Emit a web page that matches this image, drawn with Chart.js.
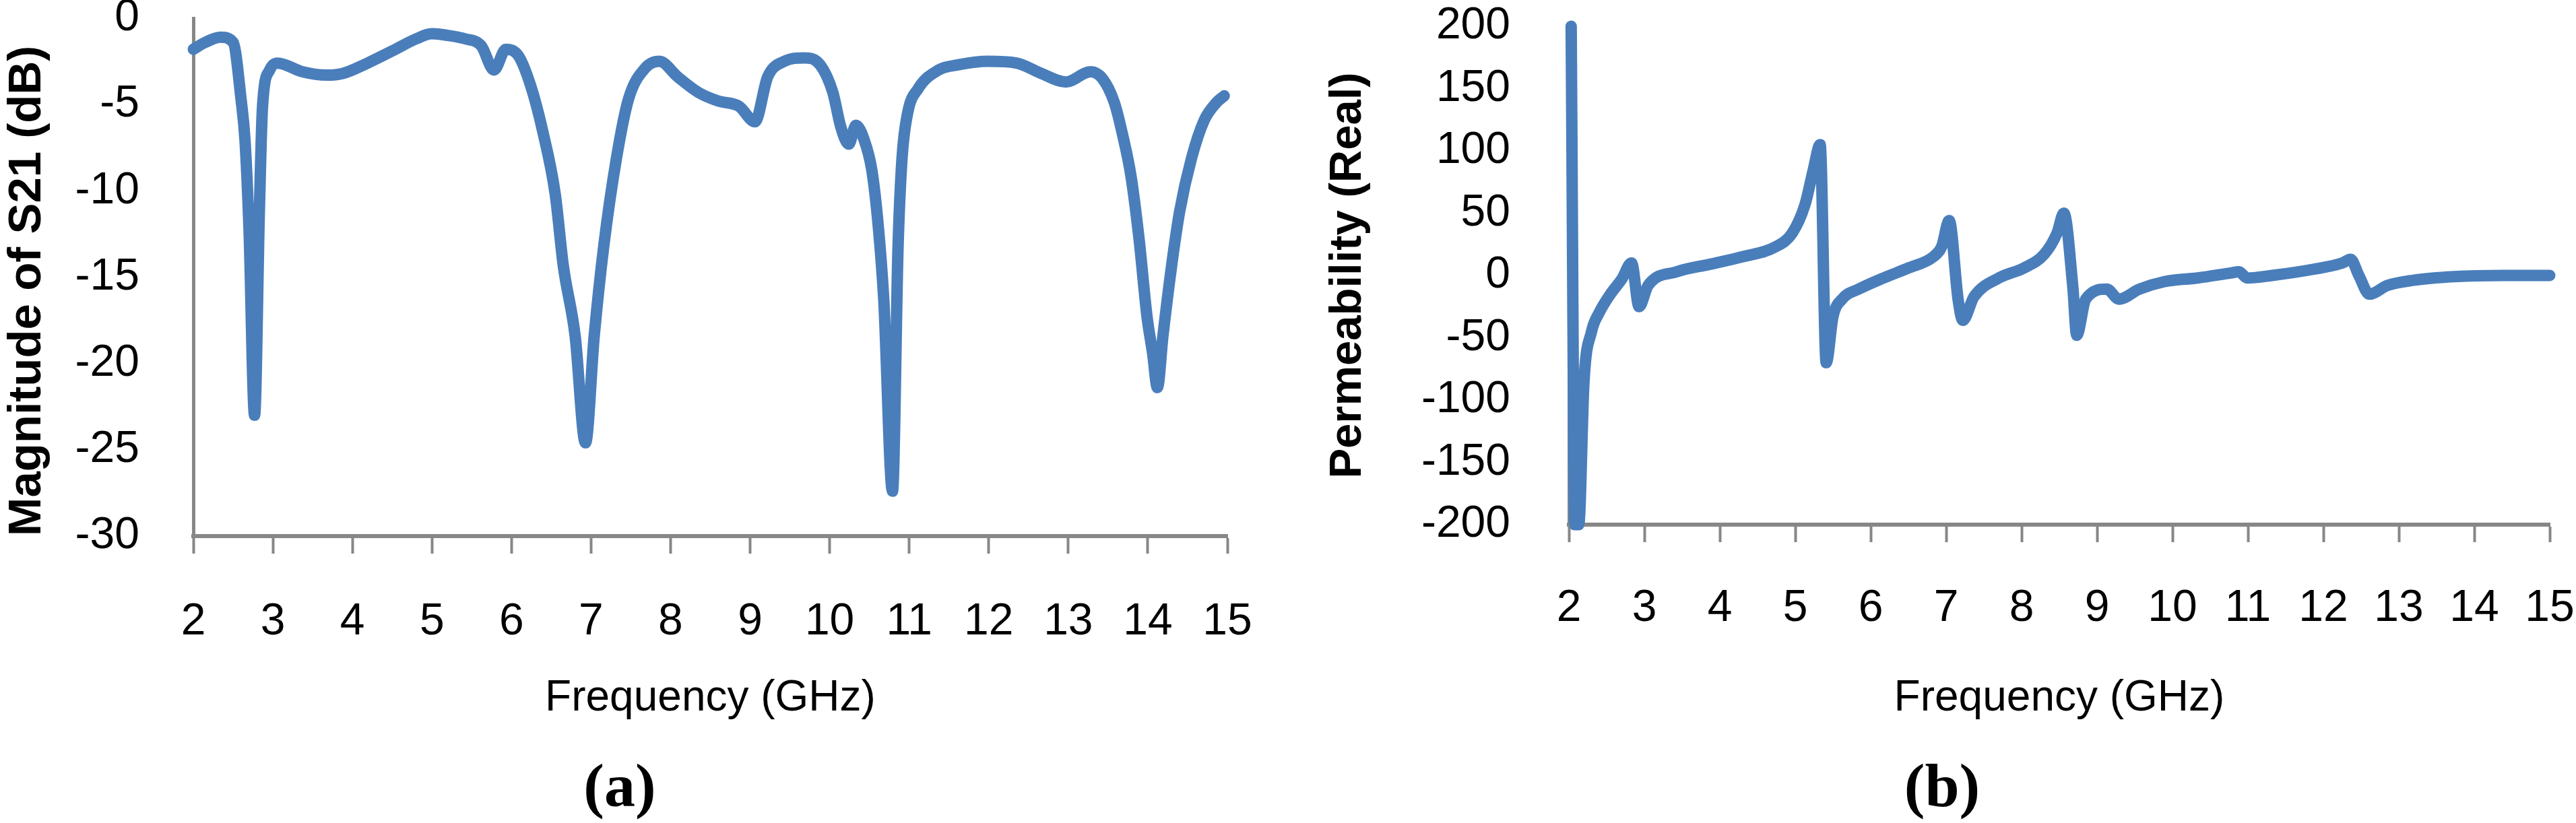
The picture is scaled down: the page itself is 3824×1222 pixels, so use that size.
<!DOCTYPE html>
<html>
<head>
<meta charset="utf-8">
<script src="https://cdn.jsdelivr.net/npm/chart.js@4.4.1/dist/chart.umd.min.js"></script>
<style>
  body { margin: 0; background: #fff; width: 3824px; height: 1222px; position: relative; overflow: hidden; }
  canvas { position: absolute; top: 0; }
  #chartA { left: 0; }
  #chartB { left: 1900px; }
  .cap { position: absolute; top: 1120px; width: 400px; text-align: center;
         font-family: "Liberation Serif", "Times New Roman", serif; font-weight: bold;
         font-size: 92px; line-height: 92px; color: #000; }
</style>
</head>
<body>
<canvas id="chartA" width="1900" height="1076"></canvas>
<canvas id="chartB" width="1924" height="1076"></canvas>
<div class="cap" style="left:720px">(a)</div>
<div class="cap" style="left:2683px">(b)</div>
<script>
// (a) magnitude of S21
const s21Freq = [2.0, 2.15, 2.34, 2.5, 2.6, 2.65, 2.7, 2.77, 2.83, 2.87, 2.96, 3.06, 3.37, 3.68, 3.88, 4.19, 4.5, 4.8, 5.0, 5.2,
  5.42, 5.62, 5.78, 5.93, 6.09, 6.24, 6.39, 6.55, 6.65, 6.8, 6.93, 7.04, 7.16, 7.32, 7.47, 7.68, 7.86, 8.09, 8.35, 8.6,
  8.86, 9.06, 9.22, 9.43, 9.68, 9.88, 10.04, 10.14, 10.24, 10.33, 10.43, 10.53, 10.61, 10.68, 10.79, 10.86, 10.91, 10.98, 11.11, 11.37,
  11.62, 11.99, 12.35, 12.66, 12.97, 13.28, 13.43, 13.58, 13.68, 13.79, 13.89, 13.99, 14.06, 14.12, 14.19, 14.3, 14.4, 14.55, 14.71, 14.86,
  14.96];
const s21Mag = [-1.8, -1.4, -1.1, -1.4, -4.7, -7.1, -12.2, -23.0, -11.2, -5.1, -3.0, -2.6, -3.1, -3.3, -3.2, -2.6, -1.9, -1.2, -0.9, -1.0,
  -1.2, -1.6, -3.0, -1.8, -2.2, -3.9, -6.5, -10.2, -14.3, -18.4, -24.6, -18.4, -13.2, -8.1, -4.7, -2.9, -2.5, -3.4, -4.3, -4.8,
  -5.1, -6.0, -3.4, -2.5, -2.3, -2.7, -4.3, -6.3, -7.3, -6.2, -7.0, -8.8, -12.0, -16.3, -27.4, -13.2, -8.1, -5.5, -4.1, -3.0,
  -2.7, -2.5, -2.6, -3.2, -3.7, -3.1, -3.5, -4.9, -6.7, -9.2, -12.8, -17.3, -19.4, -21.4, -18.4, -14.3, -11.2, -8.1, -5.9, -4.9,
  -4.5];

// (b) real part of permeability
const muFreq = [2.03, 2.08, 2.13, 2.2, 2.3, 2.4, 2.55, 2.7, 2.83, 2.93, 3.05, 3.43, 3.87, 4.3, 4.74, 4.96, 5.13, 5.24, 5.33, 5.41,
  5.5, 5.62, 5.84, 6.17, 6.5, 6.83, 6.94, 7.04, 7.16, 7.22, 7.37, 7.7, 8.03, 8.3, 8.47, 8.56, 8.68, 8.73, 8.85, 9.13,
  9.29, 9.56, 9.89, 10.33, 10.77, 10.88, 10.99, 11.32, 11.87, 12.25, 12.36, 12.47, 12.61, 12.85, 13.18, 13.73, 14.39, 15.0];
const muReal = [200, -200, -200, -85, -45, -30, -15, -3, 10, -25, -8, 3, 9, 15, 23, 34, 57, 85, 105, -70,
  -33, -19, -11, -2, 6, 15, 23, 44, -20, -36, -17, -2, 6, 17, 34, 50, -10, -48, -19, -11,
  -19, -11, -5, -2, 2, 3, -2, 0, 5, 10, 13, 0, -15, -8, -4, -1, 0, 0];

const freqTicks = [2, 15, 1];   // min, max, step
const s21Ticks = [-30, 0, 5];
const muTicks = [-200, 200, 50];

const axisGray = "#878787";
const lineBlue = "#4a7ebb";
const sans = "'Liberation Sans', Arial, sans-serif";

function makeChart(id, xs, ys, yTicks, yTitle, box) {
  const ctx = document.getElementById(id).getContext("2d");
  return new Chart(ctx, {
    type: "line",
    data: {
      datasets: [
        {
          data: xs.map((x, i) => ({ x: x, y: ys[i] })),
          borderColor: lineBlue,
          borderWidth: 17,
          pointRadius: 0,
          cubicInterpolationMode: "monotone",
          borderJoinStyle: "round",
          borderCapStyle: "round",
          clip: 14,
        },
      ],
    },
    options: {
      responsive: false,
      animation: false,
      layout: { padding: { top: box.top, right: box.right, bottom: 0, left: 0 } },
      plugins: { legend: { display: false }, tooltip: { enabled: false } },
      scales: {
        x: {
          type: "linear",
          min: freqTicks[0],
          max: freqTicks[1],
          ticks: { stepSize: freqTicks[2], padding: box.xPad, color: "#000", maxRotation: 0, autoSkip: false,
                   font: { family: sans, size: 66 } },
          grid: { drawOnChartArea: false, drawTicks: true, tickLength: 26, tickWidth: 4, tickColor: axisGray },
          border: { color: axisGray, width: 6 },
          title: { display: true, text: "Frequency (GHz)", color: "#000", padding: 0,
                   font: { family: sans, size: 64 } },
          afterFit: (s) => { s.height = box.xHeight; s.paddingLeft = 0; s.paddingRight = 0; },
        },
        y: {
          min: yTicks[0],
          max: yTicks[1],
          ticks: { stepSize: yTicks[2], padding: box.yPad, color: "#000", font: { family: sans, size: 66 } },
          grid: { display: false },
          border: { display: true, color: axisGray, width: 5 },
          title: { display: true, text: yTitle, color: "#000", align: box.titleAlign,
                   padding: { top: box.titlePad, bottom: 0 },
                   font: { family: sans, size: box.titleSize, weight: "bold" } },
          afterFit: (s) => { s.width = box.yWidth; s.paddingTop = 0; s.paddingBottom = 0; },
        },
      },
    },
  });
}

makeChart("chartA", s21Freq, s21Mag, s21Ticks, "Magnitude of S21 (dB)",
  { top: 27, right: 78, xHeight: 280, yWidth: 287, xPad: 62, yPad: 72, titlePad: 0, titleSize: 69, titleAlign: "start" });
makeChart("chartB", muFreq, muReal, muTicks, "Permeability (Real)",
  { top: 39, right: 39, xHeight: 297, yWidth: 429, xPad: 59, yPad: 79, titlePad: 61, titleSize: 67, titleAlign: "center" });
</script>
</body>
</html>
